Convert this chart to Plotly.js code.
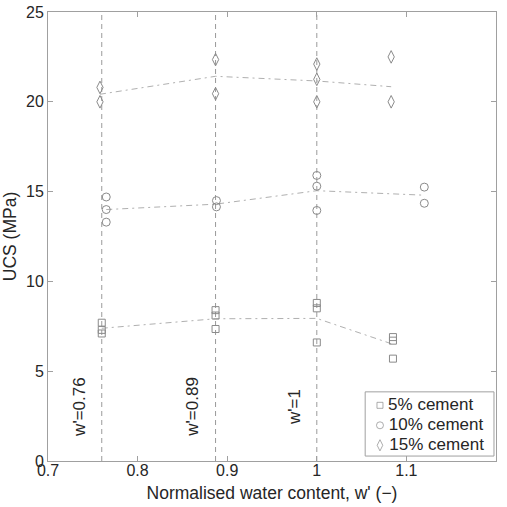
<!DOCTYPE html>
<html>
<head>
<meta charset="utf-8">
<script src="https://cdn.plot.ly/plotly-3.0.1.min.js"></script>
<style>
  html, body { margin: 0; padding: 0; background: #fff; }
  #chart { width: 507px; height: 507px; }
</style>
</head>
<body>
<div id="chart"></div>
<script>
// UCS measurements (MPa) grouped by cement content and normalised water content w'
const cem5X  = [0.76, 0.76, 0.76, 0.887, 0.887, 0.887, 1.0, 1.0, 1.0, 1.085, 1.085, 1.085];
const cem5Y  = [7.7, 7.3, 7.1, 8.4, 8.1, 7.35, 8.8, 8.5, 6.6, 6.9, 6.7, 5.7];
const cem10X = [0.765, 0.765, 0.765, 0.888, 0.888, 1.0, 1.0, 1.0, 1.12, 1.12];
const cem10Y = [14.7, 14.0, 13.3, 14.5, 14.15, 15.9, 15.3, 13.95, 15.25, 14.35];
const cem15X = [0.758, 0.758, 0.887, 0.887, 1.0, 1.0, 1.0, 1.083, 1.083];
const cem15Y = [20.8, 20.0, 22.35, 20.45, 22.1, 21.25, 20.0, 22.5, 20.0];

// Mean trend lines
const trend5X  = [0.76, 0.887, 1.0, 1.085];
const trend5Y  = [7.39, 7.92, 7.94, 6.5];
const trend10X = [0.765, 0.887, 1.0, 1.12];
const trend10Y = [14.0, 14.3, 15.05, 14.8];
const trend15X = [0.758, 0.887, 1.0, 1.083];
const trend15Y = [20.42, 21.42, 21.16, 20.84];

// Reference water contents
const refW      = [0.76, 0.887, 1.0];
const refLabels = ["w'=0.76", "w'=0.89", "w'=1"];
const refLabelY = 3.0;

const seriesNames   = ['5% cement', '10% cement', '15% cement'];
const seriesSymbols = ['square-open', 'circle-open', 'diamond-tall-open'];
const seriesSizes   = [7, 8, 9];

const FONT = 'Liberation Sans, Arial, sans-serif';
const TEXT = '#262626';
const MARK = '#8a8a8a';
const AXIS = '#a0a0a0';

const traces = [];

// vertical reference lines
refW.forEach(w => {
  traces.push({
    x: [w, w], y: [0, 25], mode: 'lines', type: 'scatter',
    line: {color: '#9a9a9a', width: 1, dash: '5px,4px'},
    showlegend: false, hoverinfo: 'skip'
  });
});

// trend lines
[[trend5X, trend5Y], [trend10X, trend10Y], [trend15X, trend15Y]].forEach(([x, y]) => {
  traces.push({
    x: x, y: y, mode: 'lines', type: 'scatter',
    line: {color: '#b0b0b0', width: 1, dash: '6px,4px,2px,4px'},
    showlegend: false, hoverinfo: 'skip'
  });
});

// measured points
[[cem5X, cem5Y], [cem10X, cem10Y], [cem15X, cem15Y]].forEach(([x, y], i) => {
  traces.push({
    x: x, y: y, name: seriesNames[i], mode: 'markers', type: 'scatter',
    marker: {symbol: seriesSymbols[i], size: seriesSizes[i], color: MARK, line: {width: 1}},
    showlegend: false
  });
});

// compact legend drawn on an overlay axis spanning the plot area (0..1 both ways)
const legendBox = {x0: 0.708, x1: 0.9955, y0: 0.011, y1: 0.154};
const legendRows = seriesNames.map((_, i) => legendBox.y1 - 0.03 - i * 0.0445);
traces.push({
  x: seriesNames.map(() => 0.741), y: legendRows,
  xaxis: 'x2', yaxis: 'y2',
  mode: 'markers+text', type: 'scatter',
  text: seriesNames.map(n => '\u2009' + n), textposition: 'middle right',
  textfont: {family: FONT, size: 17, color: TEXT},
  marker: {symbol: seriesSymbols, size: seriesSizes.map(s => s - 1), color: MARK, line: {width: 1}},
  showlegend: false, hoverinfo: 'skip', cliponaxis: false
});

const annotations = refW.map((w, i) => ({
  x: w, y: refLabelY, xref: 'x', yref: 'y',
  text: refLabels[i], textangle: -90, showarrow: false,
  xshift: -23, font: {family: FONT, size: 17, color: TEXT}
}));

const layout = {
  width: 507, height: 507,
  margin: {l: 48, r: 11, t: 12, b: 46},
  paper_bgcolor: '#fff', plot_bgcolor: '#fff',
  font: {family: FONT, color: TEXT, size: 16},
  showlegend: false,
  xaxis: {
    range: [0.7, 1.2], dtick: 0.1, tick0: 0.7,
    ticks: 'inside', ticklen: 5, tickcolor: AXIS,
    showline: true, linecolor: AXIS, linewidth: 1, mirror: 'ticks',
    showgrid: false, zeroline: false, ticklabelstandoff: -5,
    tickfont: {family: FONT, size: 16, color: TEXT},
    title: {text: "Normalised water content, w' (\u2212)", font: {family: FONT, size: 17.5, color: TEXT}, standoff: 8}
  },
  yaxis: {
    range: [0, 25], dtick: 5,
    ticks: 'inside', ticklen: 5, tickcolor: AXIS,
    showline: true, linecolor: AXIS, linewidth: 1, mirror: 'ticks',
    showgrid: false, zeroline: false,
    tickfont: {family: FONT, size: 16, color: TEXT},
    title: {text: 'UCS (MPa)', font: {family: FONT, size: 17.5, color: TEXT}, standoff: 4}
  },
  xaxis2: {overlaying: 'x', range: [0, 1], visible: false, fixedrange: true},
  yaxis2: {overlaying: 'y', range: [0, 1], visible: false, fixedrange: true},
  shapes: [{
    type: 'rect', xref: 'paper', yref: 'paper', layer: 'below',
    x0: legendBox.x0, x1: legendBox.x1, y0: legendBox.y0, y1: legendBox.y1,
    fillcolor: '#fff', line: {color: AXIS, width: 1}
  }],
  annotations: annotations
};

Plotly.newPlot('chart', traces, layout, {displayModeBar: false, staticPlot: true});
</script>
</body>
</html>
